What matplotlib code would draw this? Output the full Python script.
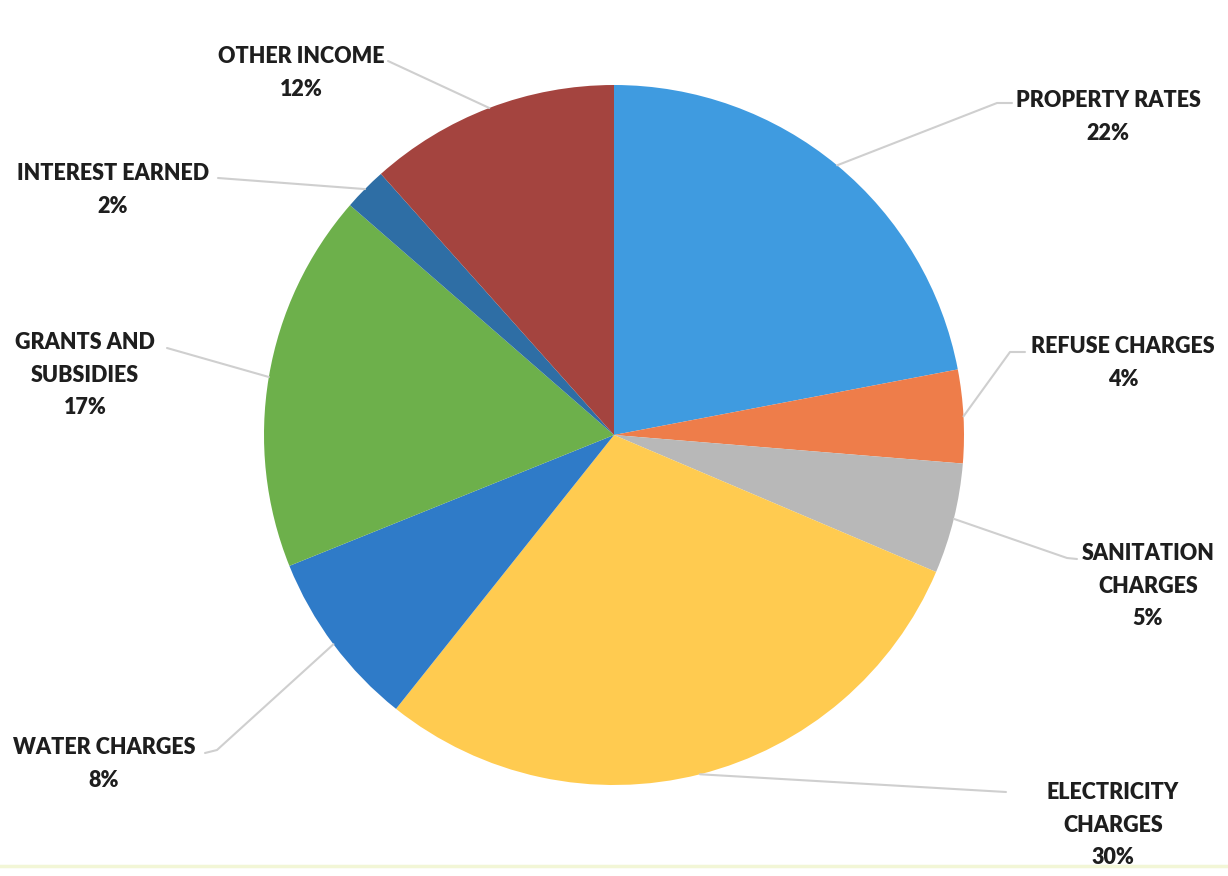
import matplotlib.pyplot as plt
from matplotlib.lines import Line2D
import numpy as np

# revenue sources, clockwise from 12 o'clock
categories = ['PROPERTY RATES', 'REFUSE CHARGES', 'SANITATION\nCHARGES',
              'ELECTRICITY\nCHARGES', 'WATER CHARGES', 'GRANTS AND\nSUBSIDIES',
              'INTEREST EARNED', 'OTHER INCOME']
shares = [22.0, 4.3, 5.1, 29.3, 8.2, 17.5, 2.0, 11.6]
pct_labels = ['22%', '4%', '5%', '30%', '8%', '17%', '2%', '12%']
colors = ['#3F9BE0', '#EE7D4A', '#B8B8B8', '#FFCB50',
          '#2F7BC8', '#6DB04B', '#2E6EA5', '#A4443F']

# label layout in pixels (from top-left): text centre of first line, leader path
label_pos = [(1108, 99), (1123, 345), (1148, 552), (1113, 791),
             (104, 746), (85, 341), (113, 172), (301, 55)]
leader_pts = [[(997, 103), (1012, 103)],
              [(1010, 352), (1025, 352)],
              [(1067, 558), (1077, 559)],
              [(1006, 792)],
              [(217, 750), (205, 753)],
              [(167, 348)],
              [(218, 178)],
              [(388, 61)]]

W, H = 1228, 876
fig = plt.figure(figsize=(W / 100, H / 100), dpi=100)
ax = fig.add_axes([0, 0, 1, 1])

cx, cy, r = 614, H - 435, 350
wedges, _ = ax.pie(shares, colors=colors, startangle=90, counterclock=False,
                   center=(cx, cy), radius=r)
ax.set_xlim(0, W)
ax.set_ylim(0, H)
ax.set_aspect('auto')
ax.axis('off')

for w, name, pct, (tx, ty), pts in zip(wedges, categories, pct_labels, label_pos, leader_pts):
    mid = np.deg2rad((w.theta1 + w.theta2) / 2)
    xs = [cx + r * np.cos(mid)] + [p[0] for p in pts]
    ys = [cy + r * np.sin(mid)] + [H - p[1] for p in pts]
    ax.plot(xs, ys, color='#CFCFCF', lw=1.5, solid_capstyle='round')
    ax.text(tx, H - ty + 9, name + '\n' + pct, ha='center', va='top',
            fontfamily='Lato', fontweight='heavy', fontsize=15.5,
            color='#1E1E1E', linespacing=1.68)

# faint scan border at the bottom
fig.add_artist(Line2D([0, 1], [1 - 866 / H, 1 - 866 / H], color='#F2F6D6', lw=2.5,
                      transform=fig.transFigure))

fig.savefig('out.png', dpi=100, facecolor='white')
